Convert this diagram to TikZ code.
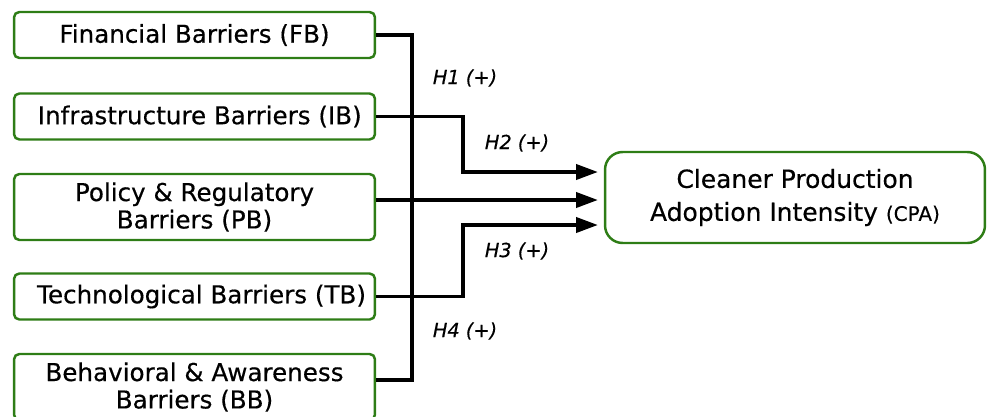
\documentclass[tikz,border=0pt]{standalone}
\usepackage{fontspec}
\setmainfont[FakeBold=0.4]{DejaVu Sans}
\usetikzlibrary{arrows.meta}
\definecolor{boxgreen}{RGB}{46,125,22}

\begin{document}
\begin{tikzpicture}[x=0.02cm, y=-0.02cm,
    barrier/.style={draw=boxgreen, line width=1.4pt, rounded corners=3pt, minimum width=7.22cm, minimum height=0.92cm, align=center, font=\fontsize{14}{15.6}\selectfont},
    link/.style={line width=2.2pt},
    hyp/.style={font=\fontsize{11}{12}\selectfont\itshape}]
    \useasboundingbox (0,0) rectangle (987,416);

    % barriers
    \node[barrier] (fb) at (194.5,35) {Financial Barriers (FB)};
    \node[barrier] (ib) at (194.5,116.5) {\hspace{6pt}Infrastructure Barriers (IB)};
    \node[barrier, minimum height=1.32cm] (pb) at (194.5,207) {Policy \& Regulatory\\Barriers (PB)};
    \node[barrier] (tb) at (194.5,296.5) {\hspace{8pt}Technological Barriers (TB)};
    \node[barrier, minimum height=1.32cm] (bb) at (194.5,387) {Behavioral \& Awareness\\Barriers (BB)};

    % outcome
    \node[draw=boxgreen, line width=1.4pt, rounded corners=10pt, minimum width=7.6cm, minimum height=1.82cm, align=center, font=\fontsize{14.2}{18.8}\selectfont] (cpa) at (795,197.5) {Cleaner Production\\Adoption Intensity {\fontsize{11.4}{12}\selectfont (CPA)}};

    % bends and arrow ends
    \coordinate (trunk) at (412,0);
    \coordinate (bend) at (463,0);
    \coordinate (in2) at (598,172);
    \coordinate (in1) at (598,200);
    \coordinate (in3) at (598,225);

    % paths
    \draw[link] (fb.east) -- (fb.east -| trunk) -- ([yshift=0.14cm]bb.east -| trunk) -- ([yshift=0.14cm]bb.east);
    \draw[link, -{Triangle[length=0.44cm, width=0.3cm]}] (ib.east) -- (ib.east -| bend) |- (in2);
    \draw[link, -{Triangle[length=0.44cm, width=0.3cm]}] (pb.east |- in1) -- (in1);
    \draw[link, -{Triangle[length=0.44cm, width=0.3cm]}] (tb.east) -- (tb.east -| bend) |- (in3);

    % hypotheses
    \node[hyp] (h1) at (465,78) {H1 (+)};
    \node[hyp] (h2) at (517,143) {H2 (+)};
    \node[hyp] (h3) at (517,251) {H3 (+)};
    \node[hyp] (h4) at (465,331) {H4 (+)};
\end{tikzpicture}
\end{document}
